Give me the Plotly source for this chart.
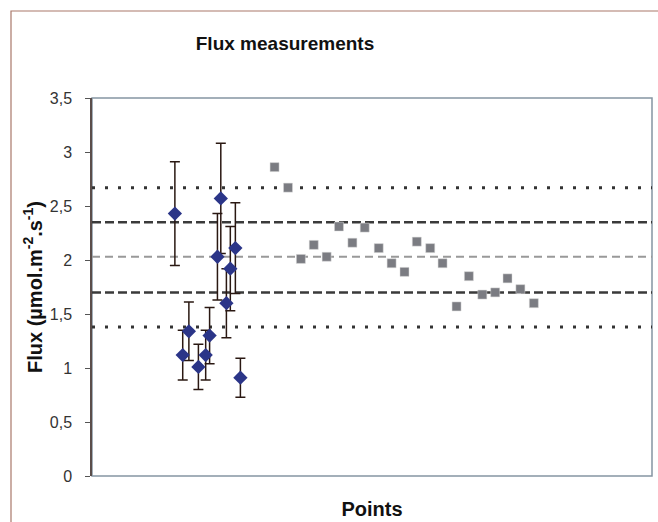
import plotly.graph_objects as go

# ---- data ----
blue_x = [14.8, 16.2, 17.3, 19.0, 20.3, 21.0, 22.4, 23.0, 24.0, 24.7, 25.6, 26.5]
blue_y = [2.43, 1.12, 1.34, 1.01, 1.12, 1.30, 2.03, 2.57, 1.60, 1.92, 2.11, 0.91]
blue_err = [0.48, 0.23, 0.27, 0.21, 0.23, 0.26, 0.40, 0.51, 0.32, 0.39, 0.42, 0.18]

gray_x = [32.6, 35.0, 37.3, 39.6, 41.9, 44.1, 46.5, 48.7, 51.2, 53.5, 55.8, 58.0,
          60.4, 62.6, 65.1, 67.3, 69.7, 72.0, 74.2, 76.5, 78.9]
gray_y = [2.86, 2.67, 2.01, 2.14, 2.03, 2.31, 2.16, 2.30, 2.11, 1.97, 1.89, 2.17,
          2.11, 1.97, 1.57, 1.85, 1.68, 1.70, 1.83, 1.73, 1.60]

line_x = [0, 100]
dotted_levels = [2.67, 1.38]
dark_dash_levels = [2.35, 1.70]
gray_dash_level = 2.03

y_tickvals = [0, 0.5, 1, 1.5, 2, 2.5, 3, 3.5]
y_ticktext = ["0", "0,5", "1", "1,5", "2", "2,5", "3", "3,5"]

FONT = "Liberation Sans, Arial, sans-serif"

fig = go.Figure()

# reference lines
for lv in dotted_levels:
    fig.add_trace(go.Scatter(x=line_x, y=[lv, lv], mode="lines",
                             line=dict(color="#333333", width=3, dash="3px,10px"),
                             hoverinfo="skip", showlegend=False))
for lv in dark_dash_levels:
    fig.add_trace(go.Scatter(x=line_x, y=[lv, lv], mode="lines",
                             line=dict(color="#3a3a3a", width=2.5, dash="9px,4px"),
                             hoverinfo="skip", showlegend=False))
fig.add_trace(go.Scatter(x=line_x, y=[gray_dash_level, gray_dash_level], mode="lines",
                         line=dict(color="#999999", width=2, dash="8px,5px"),
                         hoverinfo="skip", showlegend=False))

# measurement points with error bars
fig.add_trace(go.Scatter(
    x=blue_x, y=blue_y, mode="markers",
    marker=dict(symbol="diamond", size=11, color="#2b3588"),
    error_y=dict(type="data", array=blue_err, visible=True,
                 color="#2a1812", thickness=1.5, width=5),
    showlegend=False))

# gray squares
fig.add_trace(go.Scatter(
    x=gray_x, y=gray_y, mode="markers",
    marker=dict(symbol="square", size=9, color="#7b7c82",
                line=dict(color="#d8d8d8", width=0.5)),
    showlegend=False))

# geometry helpers for frame (paper coords)
L, R, T, B = 92, 652, 98, 476
def px_x(p):
    return (p - L) / (R - L)
def px_y(p):
    return (B - p) / (B - T)

fig.update_layout(
    width=658, height=522,
    margin=dict(l=L, r=658 - R, t=T, b=522 - B),
    paper_bgcolor="white", plot_bgcolor="white",
    separators=",.",
    font=dict(family=FONT, color="#222222"),
    title=dict(text="<b>Flux measurements</b>", x=285 / 658, xanchor="center",
               y=1 - 43 / 522, yanchor="middle",
               font=dict(size=19, color="#111111", family=FONT)),
    xaxis=dict(range=[0, 100], showgrid=False, zeroline=False, automargin=False,
               showticklabels=False, ticks="", showline=False,
               title=dict(text="<b>Points</b>", font=dict(size=20, color="#111111"),
                          standoff=25)),
    yaxis=dict(range=[0, 3.5], showgrid=False, zeroline=False, automargin=False,
               tickvals=y_tickvals, ticktext=y_ticktext,
               ticks="outside", ticklen=5, tickcolor="#555555",
               tickfont=dict(size=16, color="#333333"),
               ticklabelstandoff=10,
               showline=True, linecolor="#5a4d4a", linewidth=1.5,
               title=dict(text="<b>Flux (µmol.m<sup>-2</sup>.s<sup>-1</sup>)</b>",
                          font=dict(size=20, color="#111111"), standoff=2)),
    shapes=[
        dict(type="rect", xref="paper", yref="paper", x0=0, y0=0, x1=1, y1=1,
             line=dict(color="#8595a3", width=1.5), layer="below"),
        dict(type="path", xref="paper", yref="paper",
             path=f"M {px_x(11)} {px_y(530)} L {px_x(11)} {px_y(11)} L {px_x(670)} {px_y(11)}",
             line=dict(color="#a9786a", width=1.2)),
    ],
)

fig.write_html("out.html", config={"displayModeBar": False},
               post_script="document.body.style.margin='0px';")
